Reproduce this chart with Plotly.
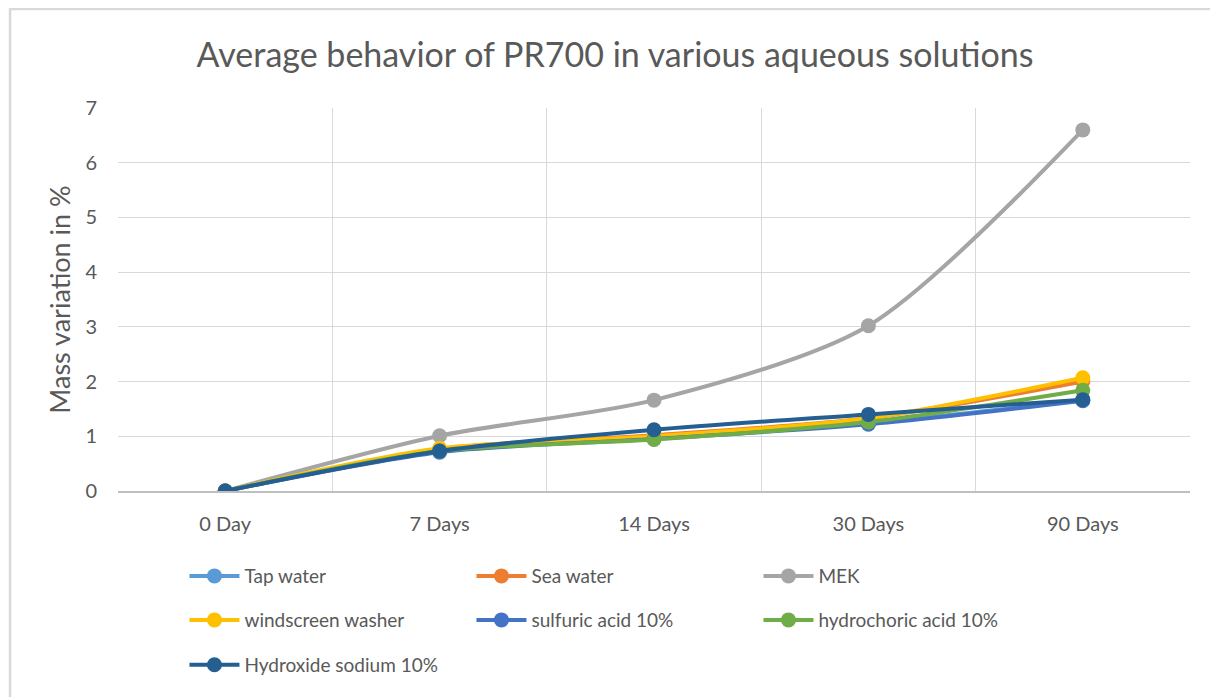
import plotly.graph_objects as go

categories = ["0 Day", "7 Days", "14 Days", "30 Days", "90 Days"]
tap_water = [0, 0.72, 0.96, 1.24, 1.66]
sea_water = [0, 0.76, 1.02, 1.33, 2.00]
mek = [0, 1.01, 1.66, 3.02, 6.60]
windscreen = [0, 0.78, 1.00, 1.33, 2.07]
sulfuric = [0, 0.71, 0.95, 1.22, 1.65]
hydrochoric = [0, 0.73, 0.94, 1.26, 1.84]
hydroxide = [0, 0.73, 1.12, 1.40, 1.67]

series = [
    ("Tap water", tap_water, "#5B9BD5", "legend"),
    ("Sea water", sea_water, "#ED7D31", "legend"),
    ("MEK", mek, "#A5A5A5", "legend"),
    ("windscreen washer", windscreen, "#FFC000", "legend2"),
    ("sulfuric acid 10%", sulfuric, "#4472C4", "legend2"),
    ("hydrochoric acid 10%", hydrochoric, "#70AD47", "legend2"),
    ("Hydroxide sodium 10%", hydroxide, "#255E91", "legend3"),
]

FONT = "Lato"
fig = go.Figure()
for name, vals, col, leg in series:
    fig.add_trace(go.Scatter(
        x=categories, y=vals, name=name, mode="lines+markers",
        line=dict(color=col, width=4, shape="spline", smoothing=0.8),
        marker=dict(color=col, size=15),
        legend=leg,
    ))

legend_common = dict(orientation="h", xanchor="left", yanchor="middle",
                     entrywidth=222, entrywidthmode="pixels",
                     font=dict(size=19, color="#595959"), itemwidth=50,
                     bgcolor="rgba(0,0,0,0)")
LX = 0.062

fig.update_layout(
    width=1210, height=689,
    paper_bgcolor="white", plot_bgcolor="white",
    margin=dict(l=110, r=28, t=100, b=206),
    title=dict(text="Average behavior of PR700 in various aqueous solutions",
               x=(615 - 8) / 1210, xanchor="center", y=0.932, yanchor="middle",
               font=dict(family=FONT, size=34, color="#595959")),
    font=dict(family=FONT, color="#595959"),
    xaxis=dict(type="category", tickson="boundaries", showgrid=True,
               gridcolor="#D9D9D9", gridwidth=1, showline=True,
               linecolor="#BFBFBF", linewidth=1.5, ticks="",
               tickfont=dict(size=20, color="#595959"), ticklabelstandoff=14,
               range=[-0.5, 4.5]),
    yaxis=dict(range=[0, 7], dtick=1, showgrid=True, gridcolor="#D9D9D9",
               gridwidth=1, zeroline=False, showline=False,
               tickfont=dict(size=20, color="#595959"), ticklabelstandoff=20,
               title=dict(text="Mass variation in %", standoff=6,
                          font=dict(size=27, color="#595959"))),
    legend=dict(x=LX, y=-0.222, **legend_common),
    legend2=dict(x=LX, y=-0.337, **legend_common),
    legend3=dict(x=LX, y=-0.454, **legend_common),
    showlegend=True,
)

fig.add_shape(type="rect", xref="paper", yref="paper",
              x0=-0.1007, x1=1.2, y0=-1.0, y1=1.2585,
              line=dict(color="#D9D9D9", width=2.5), layer="below")

fig.write_html("out.html")
